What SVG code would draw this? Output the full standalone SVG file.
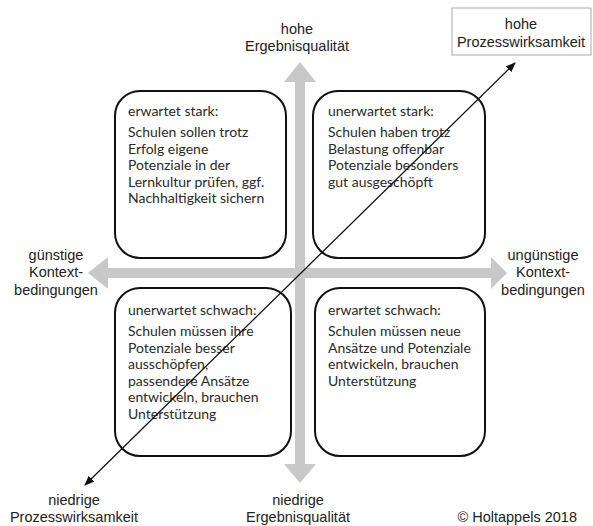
<svg xmlns="http://www.w3.org/2000/svg" width="593" height="526" viewBox="0 0 593 526">
<style>
.lbl{font-family:"Liberation Sans",Arial,sans-serif;font-size:14.5px;fill:#222;text-anchor:middle}
.box{fill:#fff;stroke:#111;stroke-width:2}
.bt{font-family:Lato,"Noto Sans",sans-serif;font-size:14px;fill:#2a2a2a}
.ax{fill:#c8c8c8}
</style>
<defs>
<marker id="ah" markerWidth="10" markerHeight="8" refX="9" refY="4" orient="auto" markerUnits="userSpaceOnUse">
<path d="M0,0 L10,4 L0,8 Z" fill="#111"/>
</marker>
</defs>
<rect width="593" height="526" fill="#fff"/>
<g id="axes">
<path class="ax" d="M295,82 L284,82 L300,62 L316,82 L305,82 L305,464 L316,464 L300,483 L284,464 L295,464 Z"/>
<path class="ax" d="M108,268 L108,257 L88,273 L108,289 L108,278 L491,278 L491,289 L507,273 L491,257 L491,268 Z"/>
</g>
<g id="q1">
<rect class="box" x="115" y="91" width="171" height="167" rx="25"/>
<text class="bt" x="128" y="116">erwartet stark:</text>
<text class="bt" x="128" y="137">Schulen sollen trotz</text>
<text class="bt" x="128" y="154">Erfolg eigene</text>
<text class="bt" x="128" y="170">Potenziale in der</text>
<text class="bt" x="128" y="187">Lernkultur prüfen, ggf.</text>
<text class="bt" x="128" y="203">Nachhaltigkeit sichern</text>
</g>
<g id="q2">
<rect class="box" x="313" y="91" width="172" height="167" rx="25"/>
<text class="bt" x="328" y="116">unerwartet stark:</text>
<text class="bt" x="328" y="137">Schulen haben trotz</text>
<text class="bt" x="328" y="154">Belastung offenbar</text>
<text class="bt" x="328" y="170">Potenziale besonders</text>
<text class="bt" x="328" y="187">gut ausgeschöpft</text>
</g>
<g id="q3">
<rect class="box" x="115" y="288" width="176" height="168" rx="25"/>
<text class="bt" x="128" y="315">unerwartet schwach:</text>
<text class="bt" x="128" y="336">Schulen müssen ihre</text>
<text class="bt" x="128" y="353">Potenziale besser</text>
<text class="bt" x="128" y="369">ausschöpfen,</text>
<text class="bt" x="128" y="386">passendere Ansätze</text>
<text class="bt" x="128" y="402">entwickeln, brauchen</text>
<text class="bt" x="128" y="419">Unterstützung</text>
</g>
<g id="q4">
<rect class="box" x="315" y="288" width="170" height="168" rx="25"/>
<text class="bt" x="328" y="315">erwartet schwach:</text>
<text class="bt" x="328" y="336">Schulen müssen neue</text>
<text class="bt" x="328" y="353">Ansätze und Potenziale</text>
<text class="bt" x="328" y="369">entwickeln, brauchen</text>
<text class="bt" x="328" y="386">Unterstützung</text>
</g>
<g id="top-label">
<text class="lbl" x="297" y="34">hohe</text>
<text class="lbl" x="297" y="51">Ergebnisqualität</text>
</g>
<g id="bottom-label">
<text class="lbl" x="298" y="505">niedrige</text>
<text class="lbl" x="298" y="522">Ergebnisqualität</text>
</g>
<g id="left-label">
<text class="lbl" x="56" y="260">günstige</text>
<text class="lbl" x="56" y="277">Kontext-</text>
<text class="lbl" x="56" y="295">bedingungen</text>
</g>
<g id="right-label">
<text class="lbl" x="543" y="260">ungünstige</text>
<text class="lbl" x="543" y="277">Kontext-</text>
<text class="lbl" x="543" y="295">bedingungen</text>
</g>
<g id="high-process">
<rect x="452" y="8" width="139" height="47" fill="#fff" stroke="#aaa" stroke-width="1"/>
<text class="lbl" x="521" y="29">hohe</text>
<text class="lbl" x="521" y="47">Prozesswirksamkeit</text>
</g>
<g id="low-process">
<text class="lbl" x="74" y="505">niedrige</text>
<text class="lbl" x="74" y="522">Prozesswirksamkeit</text>
</g>
<g id="connectors">
<line x1="300" y1="274" x2="515" y2="63" stroke="#111" stroke-width="1.3" marker-end="url(#ah)"/>
<line x1="300" y1="274" x2="85" y2="485" stroke="#111" stroke-width="1.3" marker-end="url(#ah)"/>
</g>
<text class="lbl" x="577" y="522" style="text-anchor:end">© Holtappels 2018</text>
</svg>
